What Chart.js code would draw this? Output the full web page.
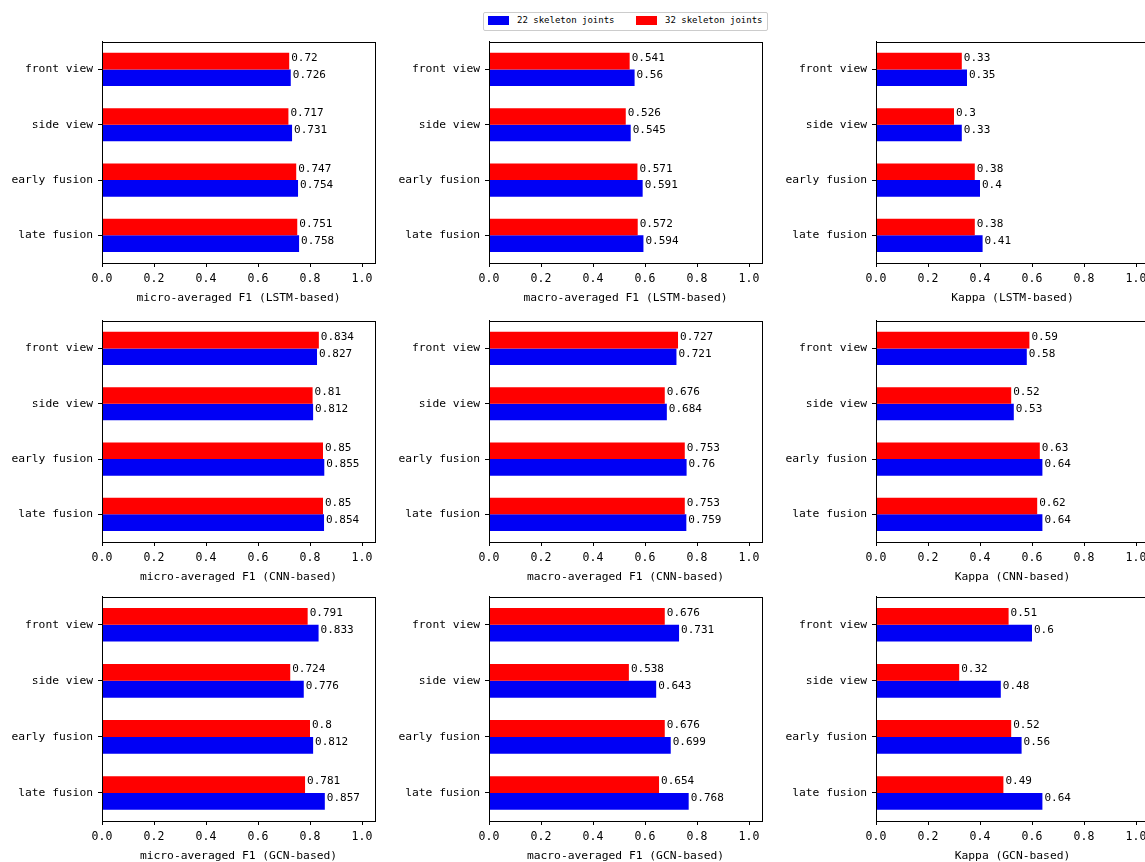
<!DOCTYPE html>
<html>
<head>
<meta charset="utf-8">
<script src="https://cdn.jsdelivr.net/npm/chart.js@4"></script>
<style>
  body { margin: 0; background: #fff; width: 1145px; height: 862px; overflow: hidden; position: relative; }
  canvas { position: absolute; }
  #legend { position: absolute; left: 483px; top: 12px; width: 283px; height: 17px; border: 1px solid #ccc; border-radius: 2px;
            font: 9px "DejaVu Sans Mono", monospace; color: #000; }
  #legend span { position: absolute; }
  .sw { width: 21px; height: 9px; top: 3px; }
  .lt { top: 2px; }
</style>
</head>
<body>
<div id="legend">
  <span class="sw" style="left:4px;background:#0000f5"></span><span class="lt" style="left:33px">22 skeleton joints</span>
  <span class="sw" style="left:152px;background:#ff0000"></span><span class="lt" style="left:181px">32 skeleton joints</span>
</div>
<script>
// 데이터
const categories = ["front view", "side view", "early fusion", "late fusion"];
const xTicks = [0, 0.2, 0.4, 0.6, 0.8, 1.0];

const lstmMicro22 = [0.726, 0.731, 0.754, 0.758];
const lstmMicro32 = [0.72, 0.717, 0.747, 0.751];
const lstmMacro22 = [0.56, 0.545, 0.591, 0.594];
const lstmMacro32 = [0.541, 0.526, 0.571, 0.572];
const lstmKappa22 = [0.35, 0.33, 0.4, 0.41];
const lstmKappa32 = [0.33, 0.3, 0.38, 0.38];

const cnnMicro22 = [0.827, 0.812, 0.855, 0.854];
const cnnMicro32 = [0.834, 0.81, 0.85, 0.85];
const cnnMacro22 = [0.721, 0.684, 0.76, 0.759];
const cnnMacro32 = [0.727, 0.676, 0.753, 0.753];
const cnnKappa22 = [0.58, 0.53, 0.64, 0.64];
const cnnKappa32 = [0.59, 0.52, 0.63, 0.62];

const gcnMicro22 = [0.833, 0.776, 0.812, 0.857];
const gcnMicro32 = [0.791, 0.724, 0.8, 0.781];
const gcnMacro22 = [0.731, 0.643, 0.699, 0.768];
const gcnMacro32 = [0.676, 0.538, 0.676, 0.654];
const gcnKappa22 = [0.6, 0.48, 0.56, 0.64];
const gcnKappa32 = [0.51, 0.32, 0.52, 0.49];

const panels = [
  { title: "micro-averaged F1 (LSTM-based)", a: lstmMicro22, b: lstmMicro32 },
  { title: "macro-averaged F1 (LSTM-based)", a: lstmMacro22, b: lstmMacro32 },
  { title: "Kappa (LSTM-based)", a: lstmKappa22, b: lstmKappa32 },
  { title: "micro-averaged F1 (CNN-based)", a: cnnMicro22, b: cnnMicro32 },
  { title: "macro-averaged F1 (CNN-based)", a: cnnMacro22, b: cnnMacro32 },
  { title: "Kappa (CNN-based)", a: cnnKappa22, b: cnnKappa32 },
  { title: "micro-averaged F1 (GCN-based)", a: gcnMicro22, b: gcnMicro32 },
  { title: "macro-averaged F1 (GCN-based)", a: gcnMacro22, b: gcnMacro32 },
  { title: "Kappa (GCN-based)", a: gcnKappa22, b: gcnKappa32 }
];

// 배치
const colLeft = [2, 389, 776];
const rowTop = [30, 309, 585];
const boxH = [223, 223, 226];
const YW = 100, XH = 50, TP = 10, BOXW = 273, RP = 12;
const FONT = '"DejaVu Sans Mono", monospace';

const frame = {
  id: "frame",
  afterDraw(chart) {
    const { ctx, chartArea: a } = chart;
    ctx.save();
    ctx.strokeStyle = "#000";
    ctx.lineWidth = 1;
    ctx.strokeRect(Math.round(a.left) + 0.5, Math.round(a.top) + 0.5, Math.round(a.right - a.left), Math.round(a.bottom - a.top));
    ctx.restore();
  }
};

const valueLabels = {
  id: "valueLabels",
  afterDatasetsDraw(chart) {
    const ctx = chart.ctx;
    ctx.save();
    ctx.font = "11px " + FONT;
    ctx.fillStyle = "#000";
    ctx.textBaseline = "middle";
    chart.data.datasets.forEach((ds, i) => {
      chart.getDatasetMeta(i).data.forEach((bar, j) => {
        ctx.fillText(String(ds.data[j]), bar.x + 2, bar.y - 3);
      });
    });
    ctx.restore();
  }
};

panels.forEach((p, k) => {
  const r = Math.floor(k / 3), c = k % 3;
  const cv = document.createElement("canvas");
  cv.width = YW + BOXW + RP;
  cv.height = TP + boxH[r] + XH;
  cv.style.left = colLeft[c] + "px";
  cv.style.top = rowTop[r] + "px";
  document.body.appendChild(cv);

  new Chart(cv.getContext("2d"), {
    type: "bar",
    data: {
      labels: categories,
      datasets: [
        { label: "32 skeleton joints", data: p.b, backgroundColor: "#ff0000", borderWidth: 0,
          categoryPercentage: 0.6, barPercentage: 1.0 },
        { label: "22 skeleton joints", data: p.a, backgroundColor: "#0000f5", borderWidth: 0,
          categoryPercentage: 0.6, barPercentage: 1.0 }
      ]
    },
    options: {
      indexAxis: "y",
      responsive: false,
      animation: false,
      layout: { padding: { top: TP, right: RP, left: 0, bottom: 0 } },
      plugins: { legend: { display: false }, tooltip: { enabled: false } },
      scales: {
        x: {
          min: 0, max: 1.05,
          afterBuildTicks: s => { s.ticks = xTicks.map(v => ({ value: v })); },
          afterFit: s => { s.height = XH; },
          ticks: { color: "#000", font: { family: FONT, size: 11.5 }, padding: 5, maxRotation: 0,
                   callback: v => Number(v).toFixed(1) },
          grid: { drawOnChartArea: false, drawTicks: true, tickLength: 4, color: "#000" },
          border: { color: "#000" },
          title: { display: true, text: p.title, color: "#000", font: { family: FONT, size: 11.3 },
                   padding: { top: 0, bottom: 8 } }
        },
        y: {
          afterFit: s => { s.width = YW; },
          ticks: { color: "#000", font: { family: FONT, size: 11.3 }, padding: 5 },
          grid: { offset: false, drawOnChartArea: false, drawTicks: true, tickLength: 4, color: "#000" },
          border: { color: "#000" }
        }
      }
    },
    plugins: [frame, valueLabels]
  });
});
</script>
</body>
</html>
